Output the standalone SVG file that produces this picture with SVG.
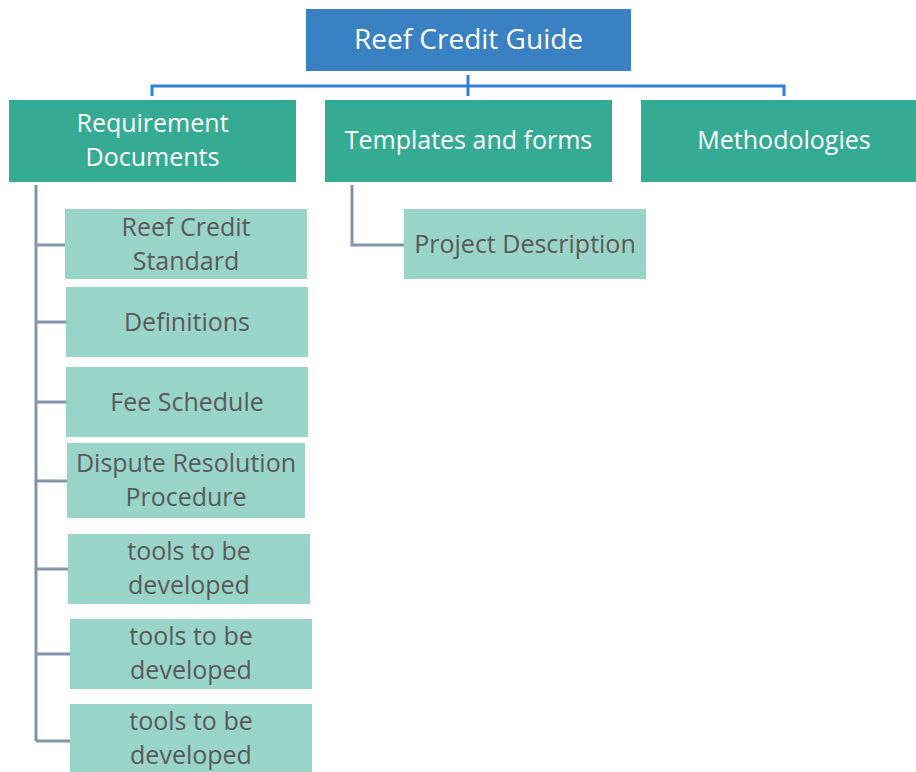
<svg xmlns="http://www.w3.org/2000/svg" width="916" height="772" viewBox="0 0 916 772">
<style>
text{font-family:"Open Sans","Noto Sans","DejaVu Sans",sans-serif;text-anchor:middle}
.root rect{fill:#3981C3}
.root text{fill:#fff;font-size:28px}
.l1 rect{fill:#35AB94}
.l1 text{fill:#fff;font-size:25px}
.l2 rect{fill:#99D4C9}
.l2 text{fill:#595959;font-size:25px}
.bl{fill:none;stroke:#2F80D8;stroke-width:3}
.gl{fill:none;stroke:#8393AB;stroke-width:3}
</style>
<rect width="916" height="772" fill="#fff"/>
<g id="connectors">
<path class="bl" d="M152,96 V86 H784 V96 M468,75 V96"/>
<path class="gl" d="M36,185 V741 M36,245 H65 M36,322 H66 M36,402 H66 M36,481 H67 M36,569 H68 M36,654 H70 M36,741 H70"/>
<path class="gl" d="M352,185 V245 H404"/>
</g>
<g id="root" class="root"><rect x="306" y="9" width="325" height="62"/><text x="468.5" y="49">Reef Credit Guide</text></g>
<g id="req" class="l1"><rect x="9" y="100" width="287" height="82"/><text x="152.5" y="132">Requirement<tspan x="152.5" dy="34.3">Documents</tspan></text></g>
<g id="templates" class="l1"><rect x="325" y="100" width="287" height="82"/><text x="468.5" y="149">Templates and forms</text></g>
<g id="methods" class="l1"><rect x="641" y="100" width="275" height="82"/><text x="784" y="149">Methodologies</text></g>
<g id="rcs" class="l2"><rect x="65" y="209" width="242" height="70"/><text x="186" y="236">Reef Credit<tspan x="186" dy="34.3">Standard</tspan></text></g>
<g id="defs" class="l2"><rect x="66" y="287" width="242" height="70"/><text x="187" y="331">Definitions</text></g>
<g id="fee" class="l2"><rect x="66" y="367" width="242" height="70"/><text x="187" y="411">Fee Schedule</text></g>
<g id="dispute" class="l2"><rect x="67" y="443" width="238" height="75"/><text x="186" y="472">Dispute Resolution<tspan x="186" dy="34.3">Procedure</tspan></text></g>
<g id="tools1" class="l2"><rect x="68" y="534" width="242" height="70"/><text x="189" y="560">tools to be<tspan x="189" dy="34.3">developed</tspan></text></g>
<g id="tools2" class="l2"><rect x="70" y="619" width="242" height="70"/><text x="191" y="645">tools to be<tspan x="191" dy="34.3">developed</tspan></text></g>
<g id="tools3" class="l2"><rect x="70" y="704" width="242" height="70"/><text x="191" y="730">tools to be<tspan x="191" dy="34.3">developed</tspan></text></g>
<g id="projdesc" class="l2"><rect x="404" y="209" width="242" height="70"/><text x="525" y="253">Project Description</text></g>
</svg>
